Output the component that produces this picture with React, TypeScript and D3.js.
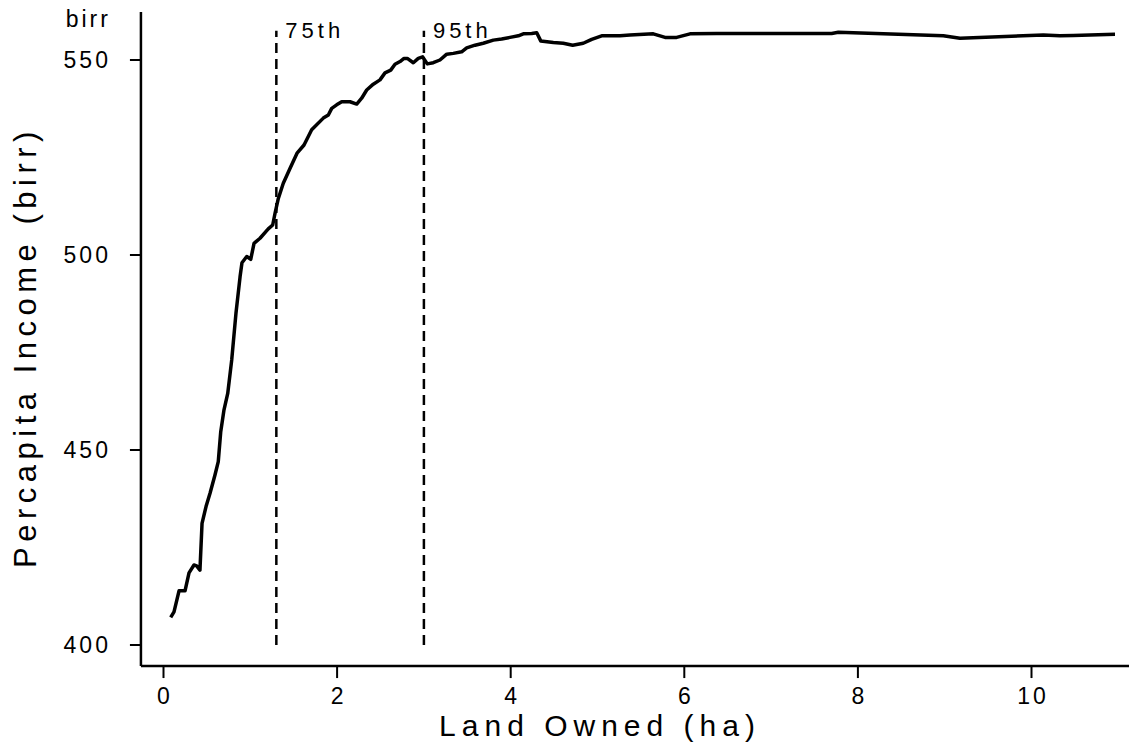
import React from 'react';
import * as d3 from 'd3';

// land owned (ha) vs per-capita income (birr)
const landOwned = [
  0.083, 0.121, 0.179, 0.248, 0.294, 0.351, 0.382, 0.42, 0.444, 0.49, 0.536, 0.593, 0.631,
  0.659, 0.697, 0.74, 0.786, 0.835, 0.882, 0.904, 0.959, 1.005, 1.043, 1.112, 1.207, 1.258,
  1.285, 1.323, 1.38, 1.457, 1.541, 1.619, 1.707, 1.841, 1.899, 1.938, 1.995, 2.053, 2.149,
  2.226, 2.283, 2.341, 2.417, 2.494, 2.552, 2.618, 2.667, 2.725, 2.771, 2.809, 2.878, 2.935,
  2.986, 3.039, 3.108, 3.185, 3.263, 3.339, 3.435, 3.493, 3.589, 3.684, 3.8, 3.896, 3.992,
  4.088, 4.145, 4.242, 4.3, 4.346, 4.491, 4.606, 4.714, 4.836, 4.933, 5.048, 5.259, 5.374,
  5.643, 5.778, 5.912, 6.066, 6.373, 6.872, 7.698, 7.774, 8.984, 9.176, 10.136, 10.328,
  10.482, 10.962,
];
const income = [
  407.1, 408.5, 413.9, 413.9, 418.5, 420.5, 420.3, 419.2, 431.2, 435.5, 438.9, 443.6, 447.0,
  454.6, 460.3, 464.5, 473.1, 485.1, 494.4, 498.0, 499.6, 498.9, 503.0, 504.3, 506.7, 507.7,
  510.7, 514.5, 518.4, 522.2, 526.2, 528.2, 532.1, 535.1, 535.9, 537.6, 538.5, 539.3, 539.3,
  538.7, 540.2, 542.3, 543.8, 544.9, 546.7, 547.4, 548.9, 549.6, 550.4, 550.4, 549.3, 550.4,
  550.8, 549.0, 549.3, 550.0, 551.5, 551.7, 552.1, 553.1, 553.8, 554.3, 555.1, 555.4, 555.8,
  556.2, 556.7, 556.8, 557.0, 554.9, 554.5, 554.3, 553.8, 554.3, 555.3, 556.2, 556.2, 556.4,
  556.7, 555.8, 555.8, 556.7, 556.8, 556.8, 556.8, 557.1, 556.2, 555.6, 556.4, 556.2,
  556.3, 556.6,
];

const xTicks = [0, 2, 4, 6, 8, 10];
const yTicks = [400, 450, 500, 550];
const pctCuts = [1.3, 3.0];
const pctLabels = ['75th', '95th'];

const W = 1129;
const H = 746;
const font = '"Liberation Sans", Arial, Helvetica, sans-serif';

const App = () => {
  const x = d3.scaleLinear().domain([0, 10]).range([163.5, 1031.5]);
  const y = d3.scaleLinear().domain([400, 550]).range([645, 60]);

  const axisLeft = x(-0.26);
  const axisBottom = y(394.6);
  const axisTop = y(562.3);

  const pts = landOwned.map((d, i) => [d, income[i]] as [number, number]);
  const line = d3.line<[number, number]>()
    .x(d => x(d[0]))
    .y(d => y(d[1]));

  return (
    <svg width={W} height={H} style={{ position: 'absolute', left: 0, top: 0, background: '#fff' }}
      fontFamily={font}>
      {/* axes */}
      <line x1={axisLeft} x2={W} y1={axisBottom} y2={axisBottom} stroke="#000" strokeWidth={2.5} />
      <line x1={axisLeft} x2={axisLeft} y1={axisTop} y2={axisBottom} stroke="#000" strokeWidth={2.5} />

      {xTicks.map(t => (
        <g key={'x' + t}>
          <line x1={x(t)} x2={x(t)} y1={axisBottom} y2={axisBottom + 12} stroke="#000" strokeWidth={2} />
          <text x={x(t) + 1.5} y={704} textAnchor="middle" fontSize={23} letterSpacing={3}>{t}</text>
        </g>
      ))}
      {yTicks.map(t => (
        <g key={'y' + t}>
          <line x1={axisLeft - 11} x2={axisLeft} y1={y(t)} y2={y(t)} stroke="#000" strokeWidth={2} />
          <text x={axisLeft - 30} y={y(t) + 8} textAnchor="end" fontSize={23} letterSpacing={3}>{t}</text>
        </g>
      ))}
      <text x={axisLeft - 30} y={27} textAnchor="end" fontSize={23} letterSpacing={3}>birr</text>

      {/* percentile cut-offs */}
      {pctCuts.map((c, i) => (
        <g key={'p' + i}>
          <line x1={x(c)} x2={x(c)} y1={y(400)} y2={y(557.5)} stroke="#000" strokeWidth={2.5}
            strokeDasharray="10,6" />
          <text x={x(c) + 9} y={38} fontSize={22} letterSpacing={4}>{pctLabels[i]}</text>
        </g>
      ))}

      <path d={line(pts) || ''} fill="none" stroke="#000" strokeWidth={3.5} strokeLinejoin="round" />

      {/* titles */}
      <text x={600} y={736} textAnchor="middle" fontSize={30} letterSpacing={6}>Land Owned (ha)</text>
      <text transform="translate(36,347) rotate(-90)" textAnchor="middle" fontSize={31} letterSpacing={5.5}>
        Percapita Income (birr)
      </text>
    </svg>
  );
};

export default App;
